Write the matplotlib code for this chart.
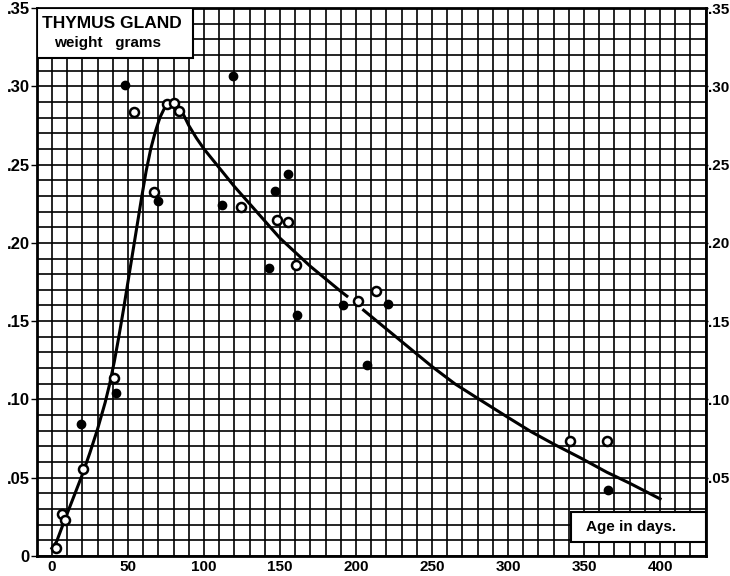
import matplotlib.pyplot as plt
from matplotlib.ticker import MultipleLocator, FuncFormatter
from matplotlib.patches import Rectangle

plt.rcParams['font.family'] = ['Liberation Sans', 'DejaVu Sans']
plt.rcParams['font.weight'] = 'bold'

# thymus weight (grams) against age (days)
filled_days = [19, 42, 48, 70, 112, 119, 143, 147, 155.5, 161, 191.5, 207, 221, 366]
filled_vals = [0.084, 0.104, 0.301, 0.2265, 0.2245, 0.3065, 0.184, 0.233, 0.2442,
               0.154, 0.160, 0.122, 0.161, 0.042]

open_days = [3, 6.5, 8.5, 20.5, 41, 54, 67, 76, 80, 83.5, 124.5, 148, 155.5, 160.5,
             201, 213, 341, 365]
open_vals = [0.005, 0.027, 0.023, 0.0557, 0.114, 0.2836, 0.2325, 0.289, 0.2895, 0.284,
             0.223, 0.2144, 0.2135, 0.186, 0.1628, 0.1692, 0.0732, 0.0732]

# hand-drawn growth curve, broken around 200 days
curve1_days = [0, 3, 8, 14, 20, 25, 30, 35, 38, 41, 44, 47, 50, 53, 56, 59, 62, 65,
               68, 71, 74, 77, 79, 81, 84, 87, 90, 95, 100, 110, 120, 130, 140, 150,
               160, 170, 180, 190, 194]
curve1_vals = [0.005, 0.009, 0.022, 0.037, 0.052, 0.066, 0.081, 0.098, 0.110, 0.124,
               0.140, 0.157, 0.175, 0.193, 0.211, 0.229, 0.246, 0.260, 0.271, 0.280,
               0.286, 0.2895, 0.290, 0.289, 0.2865, 0.281, 0.275, 0.267, 0.260, 0.248,
               0.236, 0.225, 0.214, 0.203, 0.194, 0.185, 0.177, 0.169, 0.166]
curve2_days = [205, 220, 235, 250, 265, 282, 300, 315, 330, 348, 365, 380, 400]
curve2_vals = [0.157, 0.145, 0.133, 0.121, 0.110, 0.0995, 0.0885, 0.0795, 0.0715,
               0.0625, 0.0535, 0.0465, 0.0365]

fig = plt.figure(figsize=(7.3, 5.76), dpi=100)
ax = fig.add_axes([0.0503, 0.0347, 0.9164, 0.9514])
ax.set_xlim(-10, 430)
ax.set_ylim(0, 0.35)

ax.xaxis.set_major_locator(MultipleLocator(50))
ax.xaxis.set_minor_locator(MultipleLocator(10))
ax.yaxis.set_major_locator(MultipleLocator(0.05))
ax.yaxis.set_minor_locator(MultipleLocator(0.01))
ax.grid(which='both', color='black', lw=1.2)
ax.set_axisbelow(True)
for s in ax.spines.values():
    s.set_linewidth(2.0)

ax.set_xticks([0, 50, 100, 150, 200, 250, 300, 350, 400])
ax.tick_params(axis='x', which='both', length=0, pad=3, labelsize=11)
ax.tick_params(axis='y', which='minor', length=0)
ax.tick_params(axis='y', which='major', length=4, width=1, pad=1, labelsize=12)

fmt = FuncFormatter(lambda v, p: '0' if abs(v) < 1e-9 else ('%.2f' % v)[1:])
ax.yaxis.set_major_formatter(fmt)

ax2 = ax.twinx()
ax2.set_ylim(0, 0.35)
ax2.set_yticks([0.05, 0.10, 0.15, 0.20, 0.25, 0.30, 0.35])
ax2.yaxis.set_major_formatter(fmt)
ax2.tick_params(axis='y', length=1.5, width=1, pad=0.3, labelsize=11)
for s in ax2.spines.values():
    s.set_visible(False)

ax.plot(curve1_days, curve1_vals, color='black', lw=2.2, zorder=4)
ax.plot(curve2_days, curve2_vals, color='black', lw=2.2, zorder=4)
ax.plot(filled_days, filled_vals, 'o', color='black', ms=6, zorder=5)
ax.plot(open_days, open_vals, 'o', mfc='white', mec='black', mew=1.8, ms=6.5, zorder=5)

# label boxes over the grid
ax.add_patch(Rectangle((0, 0.909), 0.2336, 0.091, transform=ax.transAxes,
                       facecolor='white', edgecolor='black', lw=1.5, zorder=3))
ax.text(0.1126, 0.9726, 'THYMUS GLAND', transform=ax.transAxes, ha='center',
        va='center', fontsize=12.5, zorder=6)
ax.text(0.1066, 0.936, 'weight   grams', transform=ax.transAxes, ha='center',
        va='center', fontsize=11, zorder=6)

ax.add_patch(Rectangle((0.798, 0.0261), 0.202, 0.0547, transform=ax.transAxes,
                       facecolor='white', edgecolor='black', lw=1.5, zorder=3))
ax.text(0.889, 0.0535, 'Age in days.', transform=ax.transAxes, ha='center',
        va='center', fontsize=11, zorder=6)

fig.savefig('out.png', dpi=100)
